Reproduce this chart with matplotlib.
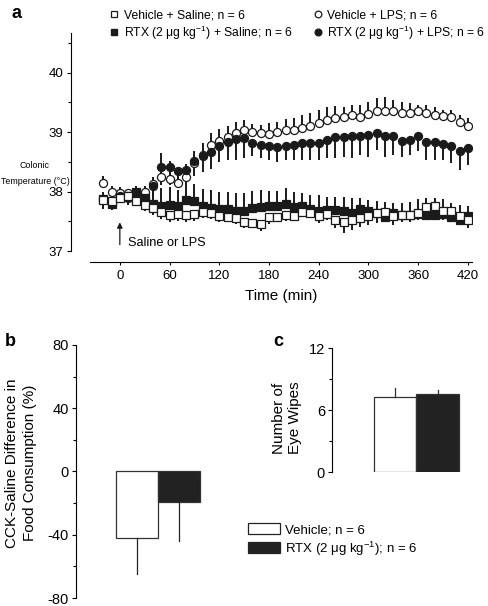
import numpy as np
import matplotlib
matplotlib.use("Agg")
import matplotlib.pyplot as plt
from matplotlib.lines import Line2D
from matplotlib.patches import Patch

plt.rcParams['font.family'] = ['Liberation Sans', 'DejaVu Sans']
plt.rcParams['mathtext.fontset'] = 'custom'
plt.rcParams['mathtext.rm'] = 'Liberation Sans'
plt.rcParams['axes.unicode_minus'] = False

# panel a: colonic temperature, every 10 min from -20 to 420
time_min = list(range(-20, 430, 10))

veh_sal = [37.86, 37.84, 37.90, 37.92, 37.85, 37.78, 37.72, 37.66, 37.60, 37.62,
           37.60, 37.62, 37.66, 37.64, 37.59, 37.58, 37.56, 37.49, 37.47, 37.45,
           37.58, 37.58, 37.60, 37.59, 37.66, 37.64, 37.59, 37.63, 37.53, 37.48,
           37.53, 37.55, 37.59, 37.64, 37.65, 37.59, 37.61, 37.61, 37.64, 37.74,
           37.75, 37.68, 37.68, 37.59, 37.53]
veh_sal_err = [0.15, 0.15, 0.10, 0.10, 0.10, 0.10, 0.12, 0.12, 0.12, 0.12,
               0.12, 0.12, 0.10, 0.10, 0.10, 0.10, 0.10, 0.10, 0.08, 0.11,
               0.12, 0.08, 0.10, 0.07, 0.08, 0.08, 0.12, 0.10, 0.15, 0.17,
               0.18, 0.14, 0.15, 0.17, 0.15, 0.15, 0.12, 0.12, 0.12, 0.10,
               0.12, 0.15, 0.12, 0.12, 0.15]

rtx_sal = [37.87, 37.79, 37.91, 37.92, 37.99, 37.89, 37.79, 37.76, 37.77, 37.75,
           37.86, 37.84, 37.75, 37.73, 37.70, 37.70, 37.68, 37.67, 37.72, 37.74,
           37.75, 37.75, 37.79, 37.74, 37.75, 37.71, 37.68, 37.69, 37.69, 37.67,
           37.64, 37.71, 37.67, 37.64, 37.57, 37.64, 37.60, 37.61, 37.63, 37.60,
           37.60, 37.63, 37.58, 37.53, 37.59]
rtx_sal_err = [0.12, 0.15, 0.12, 0.10, 0.10, 0.20, 0.25, 0.30, 0.30, 0.28,
               0.25, 0.28, 0.30, 0.30, 0.30, 0.30, 0.30, 0.31, 0.29, 0.28,
               0.26, 0.26, 0.27, 0.26, 0.22, 0.24, 0.26, 0.22, 0.22, 0.24,
               0.25, 0.18, 0.19, 0.20, 0.26, 0.17, 0.21, 0.22, 0.24, 0.29,
               0.29, 0.24, 0.22, 0.24, 0.16]

veh_lps = [38.15, 38.00, 37.97, 37.97, 37.86, 38.00, 38.13, 38.25, 38.22, 38.15,
           38.25, 38.48, 38.62, 38.78, 38.85, 38.92, 38.99, 39.03, 39.00, 38.98,
           38.97, 39.00, 39.03, 39.04, 39.07, 39.10, 39.15, 39.21, 39.24, 39.26,
           39.29, 39.26, 39.31, 39.35, 39.35, 39.35, 39.33, 39.33, 39.35, 39.32,
           39.29, 39.28, 39.25, 39.18, 39.10]
veh_lps_err = [0.12, 0.10, 0.10, 0.08, 0.10, 0.08, 0.12, 0.40, 0.30, 0.25,
               0.22, 0.20, 0.20, 0.20, 0.20, 0.18, 0.18, 0.18, 0.14, 0.14,
               0.18, 0.18, 0.19, 0.20, 0.22, 0.22, 0.22, 0.22, 0.20, 0.17,
               0.17, 0.20, 0.20, 0.22, 0.24, 0.20, 0.18, 0.16, 0.11, 0.14,
               0.14, 0.10, 0.12, 0.11, 0.14]

rtx_lps = [37.88, 37.85, 37.92, 37.90, 37.95, 37.88, 38.10, 38.41, 38.41, 38.34,
           38.36, 38.51, 38.60, 38.66, 38.77, 38.84, 38.89, 38.91, 38.82, 38.79,
           38.76, 38.75, 38.76, 38.79, 38.82, 38.82, 38.82, 38.87, 38.92, 38.92,
           38.93, 38.93, 38.96, 38.98, 38.93, 38.93, 38.85, 38.87, 38.94, 38.84,
           38.83, 38.80, 38.76, 38.69, 38.73]
rtx_lps_err = [0.15, 0.15, 0.12, 0.12, 0.12, 0.15, 0.20, 0.30, 0.30, 0.28,
               0.25, 0.25, 0.27, 0.28, 0.28, 0.30, 0.35, 0.35, 0.22, 0.22,
               0.22, 0.26, 0.22, 0.25, 0.28, 0.28, 0.28, 0.31, 0.35, 0.33,
               0.37, 0.31, 0.37, 0.28, 0.34, 0.31, 0.26, 0.25, 0.26, 0.31,
               0.29, 0.27, 0.28, 0.33, 0.28]

# panel b: CCK-saline difference in food consumption (%)
food_diff = [-42, -19]
food_err = [23, 25]

# panel c: number of eye wipes
eye_wipes = [7.25, 7.57]
eye_err = [0.88, 0.37]

rtx = 'RTX (2 \u03bcg kg$^{-1}$)'
bar_labels = ['Vehicle; n = 6', rtx + '; n = 6']
bar_colors = ['white', '#222222']
ink = '#1a1a1a'

fig = plt.figure(figsize=(4.89, 6.06), dpi=100)

# ---------- panel a ----------
ax = fig.add_axes([90/489, 1-251/606, 382/489, 218/606])
t = np.array(time_min)
zeros = np.zeros(len(t))
ekw = dict(fmt='none', ecolor=ink, elinewidth=1.4, capsize=0)
ax.errorbar(t, veh_lps, yerr=[zeros, veh_lps_err], **ekw)
ax.errorbar(t, rtx_lps, yerr=[rtx_lps_err, zeros], **ekw)
ax.errorbar(t, rtx_sal, yerr=[zeros, rtx_sal_err], **ekw)
ax.errorbar(t, veh_sal, yerr=[veh_sal_err, zeros], **ekw)
mkw = dict(ls='none', mec=ink, mew=0.9)
ax.plot(t, veh_lps, marker='o', ms=5.8, mfc='white', **mkw)
ax.plot(t, rtx_lps, marker='o', ms=5.8, mfc=ink, **mkw)
ax.plot(t, rtx_sal, marker='s', ms=5.2, mfc=ink, **mkw)
ax.plot(t, veh_sal, marker='s', ms=5.2, mfc='white', **mkw)

ax.set_xlim(-36, 425)
ax.set_ylim(37, 40.67)
ax.set_xticks(range(0, 421, 60))
ax.set_yticks([37, 38, 39, 40])
ax.set_yticks(np.arange(37.5, 40.6, 1.0), minor=True)
for s in ['top', 'right']:
    ax.spines[s].set_visible(False)
ax.spines['left'].set_position(('outward', 14))
ax.spines['bottom'].set_position(('outward', 8))
ax.tick_params(labelsize=9.5, length=3, width=0.8, pad=2)
ax.tick_params(which='minor', length=2, width=0.8)
ax.tick_params(axis='x', length=2, pad=4)
ax.set_xlabel('Time (min)', fontsize=11, labelpad=5)
fig.text(35/489, 1-174/606, 'Colonic\nTemperature (\u00b0C)', ha='center', va='center',
         fontsize=6.4, linespacing=2.0)

ax.annotate('', xy=(0, 37.53), xytext=(0, 37.06),
            arrowprops=dict(arrowstyle='-|>', color=ink, lw=0.9, mutation_scale=8))
ax.text(10, 37.14, 'Saline or LPS', fontsize=9.2, va='center')

handles = [
    Line2D([], [], ls='none', marker='s', ms=4.5, mfc='white', mec=ink, mew=0.9),
    Line2D([], [], ls='none', marker='s', ms=4.5, mfc=ink, mec=ink),
    Line2D([], [], ls='none', marker='o', ms=4.8, mfc='white', mec=ink, mew=0.9),
    Line2D([], [], ls='none', marker='o', ms=4.8, mfc=ink, mec=ink),
]
labels = ['Vehicle + Saline; n = 6', rtx + ' + Saline; n = 6',
          'Vehicle + LPS; n = 6', rtx + ' + LPS; n = 6']
fig.legend(handles, labels, loc='upper left', bbox_to_anchor=(110/489, 1-9/606),
           ncol=2, frameon=False, fontsize=8.7, handlelength=0.7, handletextpad=0.45,
           columnspacing=1.7, labelspacing=0.2, borderpad=0, borderaxespad=0)
fig.text(12/489, 1-13/606, 'a', fontsize=13, fontweight='bold', ha='left', va='center')

# ---------- panel b ----------
axb = fig.add_axes([76/489, 1-598/606, 145/489, 253/606])
xb = np.arange(len(food_diff))
axb.bar(xb, food_diff, width=1.0, color=bar_colors, edgecolor='#333333', linewidth=0.9)
for x, v, e in zip(xb, food_diff, food_err):
    axb.plot([x, x], [v, v - e], color='#222222', lw=0.9)
axb.set_xlim(-1.46, 2.0)
axb.set_ylim(-80, 80)
axb.set_yticks([-80, -40, 0, 40, 80])
axb.set_yticks([-60, -20, 20, 60], minor=True)
axb.set_xticks([])
for s in ['top', 'right', 'bottom']:
    axb.spines[s].set_visible(False)
axb.tick_params(labelsize=10.5, length=3, width=0.8, pad=2)
axb.tick_params(which='minor', length=2, width=0.8)
fig.text(21/489, 1-463/606, 'CCK-Saline Difference in\nFood Consumption (%)', rotation=90,
         ha='center', va='center', fontsize=11, linespacing=1.3)
fig.text(5/489, 1-342/606, 'b', fontsize=13, fontweight='bold', ha='left', va='center')

# ---------- panel c ----------
axc = fig.add_axes([332/489, 1-472/606, 131/489, 124/606])
xc = np.arange(len(eye_wipes))
axc.bar(xc, eye_wipes, width=1.0, color=bar_colors, edgecolor='#333333', linewidth=0.9)
for x, v, e in zip(xc, eye_wipes, eye_err):
    axc.plot([x, x], [v, v + e], color='#333333', lw=0.9)
axc.set_xlim(-1.49, 1.6)
axc.set_ylim(0, 12)
axc.set_yticks([0, 6, 12])
axc.set_yticks([3, 9], minor=True)
axc.set_xticks([])
for s in ['top', 'right', 'bottom']:
    axc.spines[s].set_visible(False)
axc.tick_params(labelsize=10.5, length=3, width=0.8, pad=2)
axc.tick_params(which='minor', length=2, width=0.8)
fig.text(287/489, 1-418/606, 'Number of\nEye Wipes', rotation=90,
         ha='center', va='center', fontsize=11, linespacing=1.2)
fig.text(273/489, 1-342/606, 'c', fontsize=13, fontweight='bold', ha='left', va='center')

# shared bar legend
bar_handles = [Patch(facecolor=c, edgecolor='#222222', linewidth=0.9) for c in bar_colors]
fig.legend(bar_handles, bar_labels, loc='upper left', bbox_to_anchor=(248/489, 1-523/606),
           frameon=False, fontsize=9.5, handlelength=2.4, handleheight=0.9,
           handletextpad=0.4, labelspacing=0.25, borderpad=0, borderaxespad=0)

fig.savefig('out.png', dpi=100)
